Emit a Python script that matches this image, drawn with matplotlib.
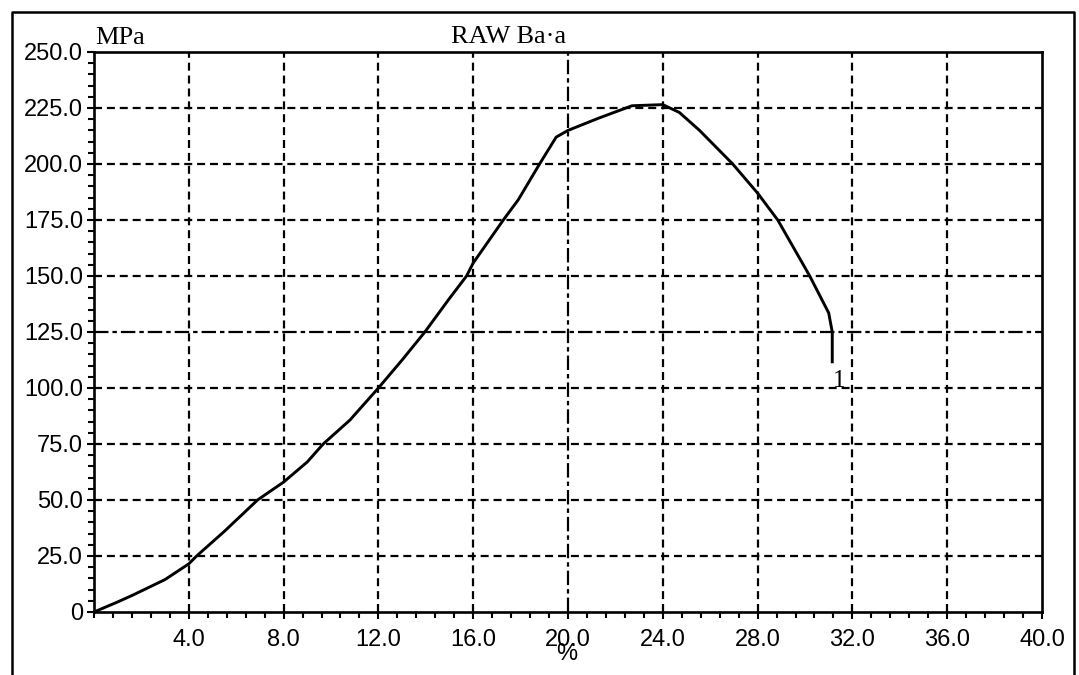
import numpy as np
import matplotlib.pyplot as plt
from matplotlib.ticker import MultipleLocator, FixedLocator
from matplotlib.lines import Line2D

# stress-strain curve of specimen 1
strain = [0, 1.0, 1.65, 3.0, 4.0, 4.33, 5.5, 6.5, 6.9, 8.0, 9.0, 9.67, 10.8,
          12.0, 13.0, 13.96, 15.0, 15.72, 16.0, 17.27, 17.9, 18.8, 19.5, 20.0,
          21.3, 22.7, 24.0, 24.7, 25.55, 26.95, 28.0, 28.85, 30.2, 31.0, 31.15,
          31.15]
stress = [0, 4.5, 7.6, 14.5, 21.5, 25, 36, 46, 50, 58, 67, 75, 85.7,
          100, 112.5, 125, 140, 150, 155.8, 175, 184, 200, 212, 215,
          220.5, 226, 226.5, 223, 215, 200, 187, 175, 150, 133.5, 125,
          111.7]

x_ticks = [4.0, 8.0, 12.0, 16.0, 20.0, 24.0, 28.0, 32.0, 36.0, 40.0]
x_labels = ["4.0", "8.0", "12.0", "16.0", "20.0", "24.0", "28.0", "32.0", "36.0", "40.0"]
y_ticks = [0, 25, 50, 75, 100, 125, 150, 175, 200, 225, 250]
y_labels = ["0", "25.0", "50.0", "75.0", "100.0", "125.0", "150.0", "175.0",
            "200.0", "225.0", "250.0"]

sans = "Liberation Sans"
serif = "Liberation Serif"

fig = plt.figure(figsize=(10.79, 6.75), dpi=100)
ax = fig.add_axes([94 / 1079, 1 - 612 / 675, (1042 - 94) / 1079, (612 - 52) / 675])

ax.set_xlim(0, 40)
ax.set_ylim(0, 250)

# dashed grid, with the 20 % and 125 MPa lines drawn dash-dot
dash = (0, (3.6, 2.2))
dashdot = (0, (6.5, 1.8, 2.0, 1.8))
for xv in x_ticks[:-1]:
    ax.axvline(xv, color="black", lw=1.6, linestyle=dashdot if xv == 20.0 else dash, zorder=1)
for yv in y_ticks[1:-1]:
    ax.axhline(yv, color="black", lw=1.6, linestyle=dashdot if yv == 125 else dash, zorder=1)

ax.plot(strain, stress, color="black", lw=2.1, zorder=3)
ax.text(31.45, 103, "1", fontsize=18, fontfamily=serif, ha="center", va="center")

ax.xaxis.set_major_locator(FixedLocator(x_ticks))
ax.set_xticklabels(x_labels)
ax.xaxis.set_minor_locator(MultipleLocator(0.8))
ax.yaxis.set_major_locator(FixedLocator(y_ticks))
ax.set_yticklabels(y_labels)
ax.yaxis.set_minor_locator(MultipleLocator(5))

ax.tick_params(which="both", direction="out", color="black", width=1.5)
ax.tick_params(which="major", length=5, labelsize=17, pad=7)
ax.tick_params(which="minor", length=4)
ax.tick_params(axis="y", which="major", pad=3)
for lab in ax.get_xticklabels() + ax.get_yticklabels():
    lab.set_fontfamily(sans)

for sp in ax.spines.values():
    sp.set_linewidth(1.9)

fig.text(95 / 1079, 1 - 38 / 675, "MPa", fontsize=19, fontfamily=serif, ha="left", va="center")
fig.text(509 / 1079, 1 - 37 / 675, "RAW Ba·a", fontsize=19, fontfamily=serif, ha="center", va="center")
fig.text(567 / 1079, 1 - 654 / 675, "%", fontsize=17, fontfamily=sans, ha="center", va="center")

# page frame around the printout
fx = [12 / 1079, 12 / 1079, 1074 / 1079, 1074 / 1079]
fy = [0, 1 - 12 / 675, 1 - 12 / 675, 0]
fig.add_artist(Line2D(fx, fy, transform=fig.transFigure, color="black", lw=1.8))

fig.savefig("out.png", dpi=100)
